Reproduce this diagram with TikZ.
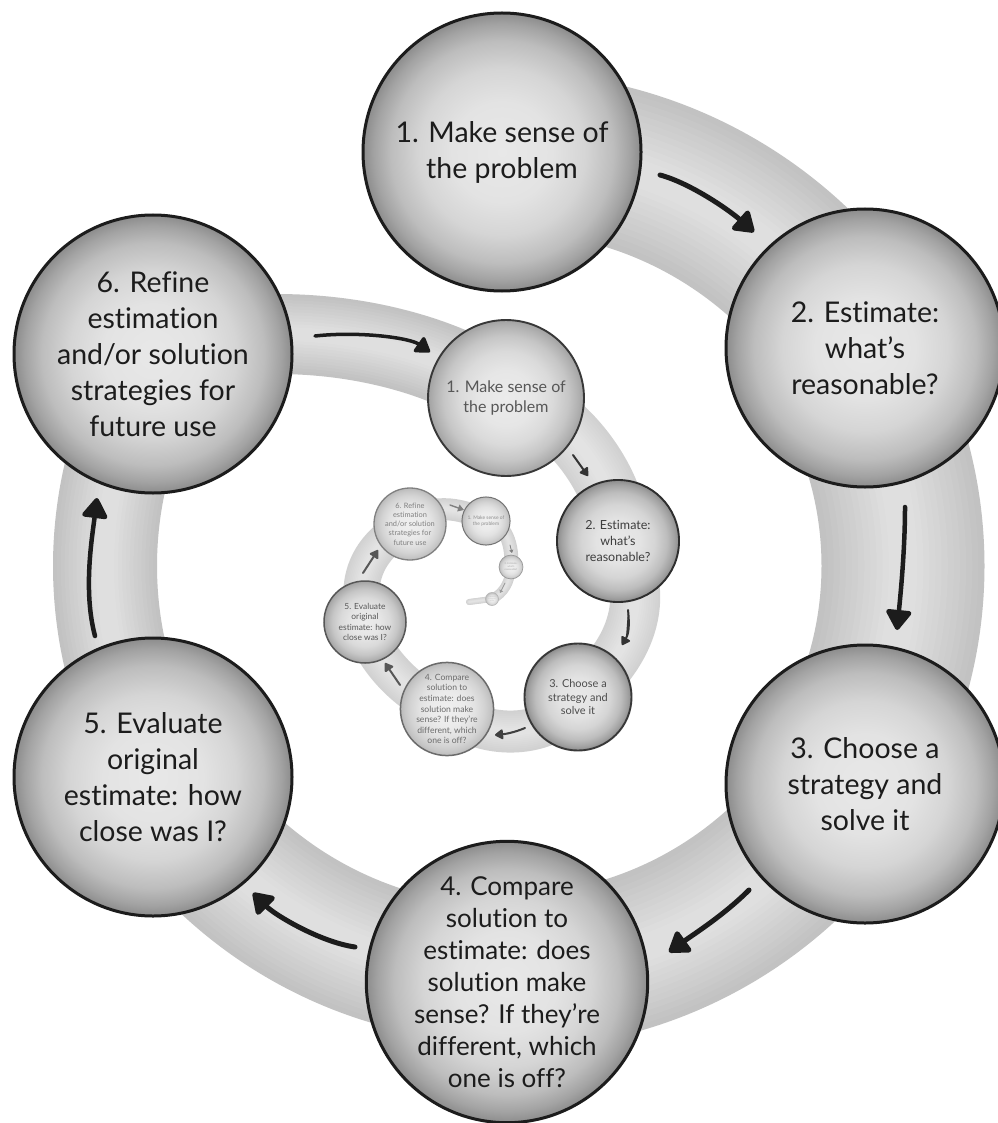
\documentclass[tikz,border=0pt]{standalone}
\usepackage{fontspec}
\setmainfont[Ligatures=NoCommon]{Lato}
\usetikzlibrary{arrows.meta}

\definecolor{ink}{HTML}{1C1C1C}
% sphere shadings: pale centre, darker rim (25bp = rim)
\definecolor{sdA}{HTML}{E8E8E8}\definecolor{sdB}{HTML}{E3E3E3}\definecolor{sdC}{HTML}{D5D5D5}
\definecolor{sdD}{HTML}{BDBDBD}\definecolor{sdE}{HTML}{A3A3A3}\definecolor{sdF}{HTML}{8C8C8C}
\pgfdeclareradialshading{spheredark}{\pgfpoint{0bp}{0bp}}{color(0bp)=(sdA); color(9bp)=(sdB); color(15bp)=(sdC); color(20bp)=(sdD); color(23bp)=(sdE); color(25bp)=(sdF); color(50bp)=(sdF)}
\definecolor{smA}{HTML}{EBEBEB}\definecolor{smB}{HTML}{E6E6E6}\definecolor{smC}{HTML}{DADADA}
\definecolor{smD}{HTML}{C6C6C6}\definecolor{smE}{HTML}{B2B2B2}\definecolor{smF}{HTML}{A2A2A2}
\pgfdeclareradialshading{spheremid}{\pgfpoint{0bp}{0bp}}{color(0bp)=(smA); color(9bp)=(smB); color(15bp)=(smC); color(20bp)=(smD); color(23bp)=(smE); color(25bp)=(smF); color(50bp)=(smF)}
\definecolor{slA}{HTML}{EFEFEF}\definecolor{slB}{HTML}{EBEBEB}\definecolor{slC}{HTML}{E2E2E2}
\definecolor{slD}{HTML}{D3D3D3}\definecolor{slE}{HTML}{C6C6C6}\definecolor{slF}{HTML}{BABABA}
\pgfdeclareradialshading{spherelight}{\pgfpoint{0bp}{0bp}}{color(0bp)=(slA); color(9bp)=(slB); color(15bp)=(slC); color(20bp)=(slD); color(23bp)=(slE); color(25bp)=(slF); color(50bp)=(slF)}

% outer turn of the spiral ribbon
\newcommand\outerribbon[2]{%
  \begin{scope}[draw=#2, line cap=round]
    \draw[line width=#1*160pt] ([shift={(-90:414)}]hub) arc[start angle=-90, end angle=-30, radius=414];
    \draw[line width=#1*163pt] ([shift={(-30:396)}]hub) arc[start angle=-30, end angle=30, radius=396];
    \draw[line width=#1*155pt] ([shift={(30:406)}]hub) arc[start angle=30, end angle=90, radius=406];
    \draw[line width=#1*137pt] ([shift={(90:408)}]hub) arc[start angle=90, end angle=150, radius=408];
    \draw[line width=#1*104pt] ([shift={(150:402)}]hub) arc[start angle=150, end angle=211, radius=402];
    \draw[line width=#1*80pt] (p6) .. controls (260,315) and (420,335) .. (q1);
  \end{scope}}
% inner turns of the spiral ribbon
\newcommand\innerribbon[2]{%
  \begin{scope}[draw=#2, line cap=round]
    \draw[line width=#1*60pt] (q1) .. controls +(55,5) and +(5,-55) .. (q2);
    \draw[line width=#1*50pt] (q2) .. controls +(37,59) and +(50,-40) .. (q3);
    \draw[line width=#1*42pt] (q3) .. controls +(-20,40) and +(40,35) .. (q4);
    \draw[line width=#1*40pt] (q4) .. controls +(-35,-10) and +(5,35) .. (q5);
    \draw[line width=#1*36pt] (q5) .. controls +(-12,-45) and +(-40,20) .. (q6);
    \draw[line width=#1*22pt] (q6) .. controls +(20,-25) and +(-17,-10) .. (t1);
    \draw[line width=#1*14pt] (t1) .. controls +(20,0) and +(2,-20) .. (t2);
    \draw[line width=#1*10pt] (t2) .. controls +(-1,15) and +(12,-6) .. (t3);
    \draw[line width=#1*6pt] (t3) -- (tailend);
  \end{scope}}

\begin{document}
\begin{tikzpicture}[x=1pt, y=-1pt,
  orb/.style={circle, shade, inner sep=0pt, minimum size=278pt, align=center,
    font=\fontsize{28.5}{36}\selectfont},
  bigorb/.style={orb, shading=spheredark, draw=ink, line width=3pt, text=ink},
  midorb/.style={orb, shading=#1, line width=1.9pt},
  compare/.style={font=\fontsize{26}{32}\selectfont},
  bigarrow/.style={draw=ink, line width=5pt, line cap=round,
    -{Triangle[length=22pt, width=28pt, round]}},
  smallarrow/.style={line width=2pt, line cap=round,
    -{Triangle[length=9pt, width=11pt, round]}},
  tinyarrow/.style={line width=0.8pt, line cap=round,
    -{Triangle[length=3pt, width=4pt]}}]

\fill[white] (0,0) rectangle (997,1123);
\useasboundingbox (0,0) rectangle (997,1123);

% centres of the circles along the spiral
\coordinate (hub) at (507,566);
\coordinate (p1) at (502,152);
\coordinate (p2) at (865,348);
\coordinate (p3) at (865,784);
\coordinate (p4) at (507,982);
\coordinate (p5) at (153,777);
\coordinate (p6) at (153,354);
\coordinate (q1) at (506,398);
\coordinate (q2) at (618,541);
\coordinate (q3) at (578,697);
\coordinate (q4) at (447,709);
\coordinate (q5) at (365,622);
\coordinate (q6) at (410,524);
\coordinate (t1) at (486,521);
\coordinate (t2) at (511,567);
\coordinate (t3) at (492,599);
\coordinate (tailend) at (469,602);

% ribbon, built up from its edges towards a paler middle
\foreach \k in {0,...,11}{
  \pgfmathsetmacro\wf{1-0.075*\k}
  \pgfmathsetmacro\tone{24-1.05*\k}
  \outerribbon{\wf}{black!\tone}
}
\foreach \k in {0,...,9}{
  \pgfmathsetmacro\wf{1-0.09*\k}
  \pgfmathsetmacro\tone{18-0.8*\k}
  \innerribbon{\wf}{black!\tone}
}

% outer ring of steps
\node[bigorb] (n1) at (p1) {1. Make sense of\\the problem};
\node[bigorb] (n2) at (p2) {2. Estimate:\\what’s\\reasonable?};
\node[bigorb] (n3) at (p3) {3. Choose a\\strategy and\\solve it};
\node[bigorb, compare] (n4) at (p4) {4. Compare\\solution to\\estimate: does\\solution make\\sense? If they’re\\different, which\\one is off?};
\node[bigorb] (n5) at (p5) {5. Evaluate\\original\\estimate: how\\close was I?};
\node[bigorb] (n6) at (p6) {6. Refine\\estimation\\and/or solution\\strategies for\\future use};

% second ring
\node[midorb=spheremid, draw=black!78, text=black!66, scale=0.561] (m1) at (q1) {1. Make sense of\\the problem};
\node[midorb=spheredark, draw=black!82, text=black!76, scale=0.439] (m2) at (q2) {2. Estimate:\\what’s\\reasonable?};
\node[midorb=spheredark, draw=black!78, text=black!70, scale=0.385] (m3) at (q3) {3. Choose a\\strategy and\\solve it};
\node[midorb=spherelight, compare, draw=black!58, text=black!58, line width=1.5pt, scale=0.331] (m4) at (q4) {4. Compare\\solution to\\estimate: does\\solution make\\sense? If they’re\\different, which\\one is off?};
\node[midorb=spheremid, draw=black!66, text=black!66, line width=1.5pt, scale=0.295] (m5) at (q5) {5. Evaluate\\original\\estimate: how\\close was I?};
\node[midorb=spherelight, draw=black!50, text=black!50, line width=1.3pt, scale=0.259] (m6) at (q6) {6. Refine\\estimation\\and/or solution\\strategies for\\future use};

% third ring
\node[midorb=spherelight, draw=black!55, text=black!45, line width=1pt, scale=0.173] (k1) at (t1) {1. Make sense of\\the problem};
\node[midorb=spherelight, draw=black!40, text=black!35, line width=0.7pt, scale=0.086] (k2) at (t2) {2. Estimate:\\what’s\\reasonable?};
\node[midorb=spherelight, draw=black!30, text=black!28, line width=0.5pt, scale=0.047] (k3) at (t3) {3. Choose a\\strategy and\\solve it};

% arrows of the outer ring
\draw[bigarrow] ([shift={(158,23)}]n1.center) .. controls +(30,8) and +(-25,-22) .. ([shift={(-111,-116)}]n2.center);
\draw[bigarrow, line width=4.5pt] ([shift={(40,159)}]n2.center) .. controls +(0,40) and +(4,-40) .. ([shift={(32,-154)}]n3.center);
\draw[bigarrow] ([shift={(-116,106)}]n3.center) .. controls +(-25,25) and +(25,-18) .. ([shift={(162,-30)}]n4.center);
\draw[bigarrow] ([shift={(-152,-35)}]n4.center) .. controls +(-35,-5) and +(22,22) .. ([shift={(100,116)}]n5.center);
\draw[bigarrow, line width=4.5pt] ([shift={(-58,-141)}]n5.center) .. controls +(-12,-45) and +(-5,40) .. ([shift={(-56,144)}]n6.center);
\draw[bigarrow, line width=3.5pt, -{Triangle[length=16pt, width=20pt, round]}] ([shift={(162,-18)}]n6.center) .. controls +(45,-5) and +(-20,-14) .. ([shift={(-76,-46)}]m1.center);

% arrows of the second ring
\draw[smallarrow, draw=black!80, fill=black!80] ([shift={(67,57)}]m1.center) -- ([shift={(-30,-65)}]m2.center);
\draw[smallarrow, draw=black!80, fill=black!80] ([shift={(10,69)}]m2.center) .. controls +(2,18) and +(6,-10) .. ([shift={(44,-52)}]m3.center);
\draw[smallarrow, draw=black!75, fill=black!75] ([shift={(-53,31)}]m3.center) .. controls +(-12,5) and +(10,-1) .. ([shift={(48,26)}]m4.center);
\draw[smallarrow, draw=black!66, fill=black!66] ([shift={(-47,-24)}]m4.center) -- ([shift={(20,41)}]m5.center);
\draw[smallarrow, draw=black!66, fill=black!66] ([shift={(-2,-49)}]m5.center) -- ([shift={(-32,26)}]m6.center);
\draw[smallarrow, draw=black!50, fill=black!50, line width=1.4pt, -{Triangle[length=6pt, width=7pt]}] ([shift={(40,-19)}]m6.center) -- ([shift={(-22,-11)}]k1.center);

% arrows of the third ring
\draw[tinyarrow, draw=black!50, fill=black!50] ([shift={(24,24)}]k1.center) -- ([shift={(1,-14)}]k2.center);
\draw[tinyarrow, draw=black!40, fill=black!40] ([shift={(-6,16)}]k2.center) -- ([shift={(8,-6)}]k3.center);

\end{tikzpicture}
\end{document}
